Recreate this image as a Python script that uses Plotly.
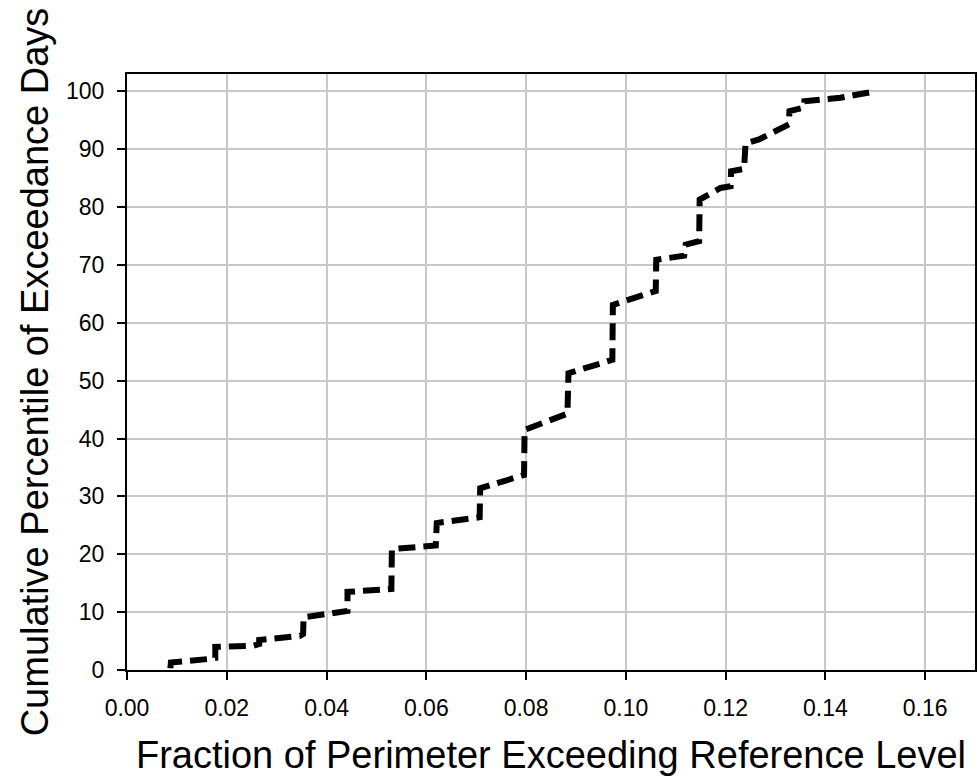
import plotly.graph_objects as go

# Empirical cumulative distribution of exceedance days (sorted observations)
fraction_exceeding = [
    0.0087, 0.0088, 0.0163, 0.0177, 0.0177, 0.0253, 0.0265, 0.0265,
    0.0347, 0.0353, 0.0354, 0.0417, 0.0442, 0.0442, 0.0530, 0.0531,
    0.0619, 0.0621, 0.0707, 0.0708, 0.0796, 0.0797, 0.0883, 0.0885,
    0.0973, 0.0974, 0.1060, 0.1061, 0.1117, 0.1120, 0.1147, 0.1148,
    0.1190, 0.1210, 0.1211, 0.1237, 0.1240, 0.1267, 0.1287, 0.1310,
    0.1327, 0.1328, 0.1357, 0.1358, 0.1430, 0.1500,
]
cumulative_percentile = [
    0.3, 1.3, 1.9, 2.1, 4.0, 4.2, 4.5, 5.2,
    5.9, 6.2, 9.1, 9.9, 10.2, 13.5, 14.0, 20.9,
    21.5, 25.4, 26.4, 31.4, 33.7, 41.5, 44.3, 51.3,
    53.6, 63.1, 65.5, 70.9, 71.6, 73.5, 74.1, 81.3,
    83.3, 83.6, 86.2, 86.6, 91.0, 91.7, 92.6, 93.4,
    94.3, 96.6, 97.2, 98.3, 98.9, 100.0,
]

x_ticks = [0.00, 0.02, 0.04, 0.06, 0.08, 0.10, 0.12, 0.14, 0.16]
y_ticks = [0, 10, 20, 30, 40, 50, 60, 70, 80, 90, 100]

fig = go.Figure()
fig.add_trace(go.Scatter(
    x=fraction_exceeding,
    y=cumulative_percentile,
    mode="lines",
    line=dict(color="black", width=6, dash="17px,8px"),
    showlegend=False,
    hoverinfo="skip",
))

font_family = "Liberation Sans, Arial, sans-serif"
grid_color = "#c8c8c8"

axis_common = dict(
    ticks="outside",
    ticklen=8,
    tickwidth=1.5,
    tickcolor="black",
    tickfont=dict(size=23),
    ticklabelstandoff=8,
    showgrid=True,
    gridcolor=grid_color,
    gridwidth=1.5,
    showline=True,
    linecolor="black",
    linewidth=2,
    mirror=True,
    zeroline=False,
)

fig.update_layout(
    width=979,
    height=783,
    margin=dict(l=127, r=2, t=74, b=113),
    paper_bgcolor="white",
    plot_bgcolor="white",
    font=dict(family=font_family, color="black"),
    xaxis=dict(
        range=[0, 0.17],
        tickvals=x_ticks,
        ticktext=[f"{v:.2f}" for v in x_ticks],
        title=dict(text="Fraction of Perimeter Exceeding Reference Level",
                   font=dict(size=38), standoff=22),
        **axis_common,
    ),
    yaxis=dict(
        range=[0, 103],
        tickvals=y_ticks,
        title=dict(text="Cumulative Percentile of Exceedance Days",
                   font=dict(size=38), standoff=6),
        **axis_common,
    ),
)

fig.write_html("out.html")
